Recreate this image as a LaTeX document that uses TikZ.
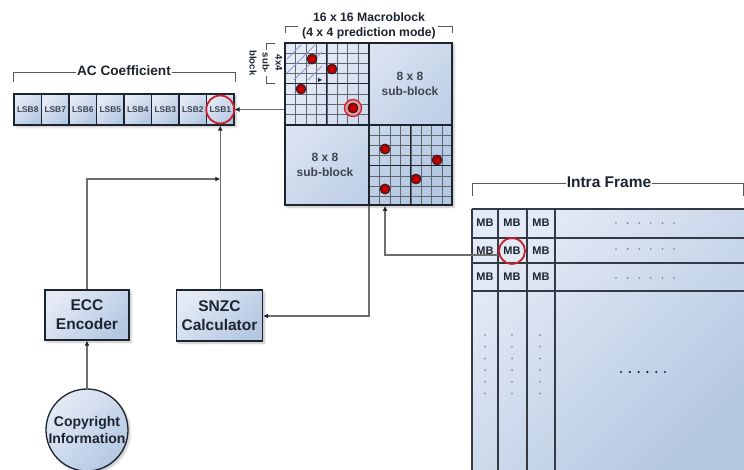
\documentclass[tikz,border=0pt]{standalone}
\usepackage{fontspec}
\setmainfont{Liberation Sans}
\usetikzlibrary{arrows.meta,shadows.blur}
\definecolor{ink}{HTML}{1C2430}
\definecolor{wire}{HTML}{6E6E6E}
\definecolor{lite}{HTML}{E4EAF5}
\definecolor{deep}{HTML}{B5C8E2}
\definecolor{redc}{HTML}{C8202C}
\tikzset{
  panel/.style={left color=lite,right color=deep,shading angle=45},
  softshadow/.style={blur shadow={shadow xshift=2pt,shadow yshift=-2pt,shadow blur steps=6,shadow opacity=25}},
  blockbox/.style={draw=ink,line width=1.3pt,panel,softshadow,font=\bfseries\fontsize{15.5}{19}\selectfont,text=ink,align=center,inner sep=0pt},
  cell/.style={draw=ink,line width=1.2pt,panel,font=\bfseries\fontsize{8.4}{9}\selectfont,text=ink!85,inner sep=0pt,minimum width=27.5pt,minimum height=31pt},
  wirearrow/.style={draw=wire,line width=1.2pt,-{Latex[length=5pt,width=5pt,color=ink]}},
  bracket/.style={draw=black!65,line width=.8pt},
  brlabel/.style={font=\bfseries\selectfont,text=ink,fill=white,inner xsep=1pt,inner ysep=0pt},
  thin grid/.style={draw=ink!70,line width=.45pt},
  sub grid/.style={draw=ink,line width=1.2pt},
  main grid/.style={draw=ink,line width=1.5pt},
  quadtext/.style={font=\bfseries\fontsize{12}{15.5}\selectfont,text=ink!85,align=center},
  mbtext/.style={font=\bfseries\fontsize{11}{12}\selectfont,text=ink},
  ring/.style={draw=redc,line width=1.6pt},
  dotsmall/.style={circle,fill=ink!60,inner sep=0pt,minimum size=1.8pt},
  dotbig/.style={circle,fill=ink,inner sep=0pt,minimum size=2.4pt},
  reddot/.style={circle,draw=ink,line width=.8pt,inner color=red!85!black,outer color=red!60!black,inner sep=0pt,minimum size=10pt},
  iframe/.style={draw=ink!90,line width=1.1pt},
}
\begin{document}
\begin{tikzpicture}[x=1pt,y=-1pt]
\useasboundingbox (0,0) rectangle (744,470);
% AC coefficient
\draw[bracket] (13,82) |- (235,72) -- (235,82);
\node[brlabel,font=\bfseries\fontsize{13.6}{15}\selectfont] (aclabel) at (124,71) {AC Coefficient};
\fill[softshadow,panel] (14,94) rectangle (234,125);
\foreach \i/\t in {0/8,1/7,2/6,3/5,4/4,5/3,6/2,7/1}
  \node[cell] (lsb\t) at ({27.75+27.5*\i},109.5) {LSB\t};
\draw[ring,line width=1.8pt] (lsb1.center) circle (14);
% Macroblock
\node[blockbox,minimum width=167pt,minimum height=162pt,line width=1.8pt] (mb) at (368.5,124) {};
\foreach \ox/\oy in {285/43,369/125}{
  \foreach \k in {1,...,7}{
    \draw[thin grid] ({\ox+\k*10.45},\oy) -- ({\ox+\k*10.45},{\oy+81});
    \draw[thin grid] (\ox,{\oy+\k*10.15}) -- ({\ox+83},{\oy+\k*10.15});
  }
  \draw[sub grid] ({\ox+41.8},\oy) -- ({\ox+41.8},{\oy+81});
  \draw[sub grid] (\ox,{\oy+40.6}) -- ({\ox+83},{\oy+40.6});
}
% scan pattern in the first 4x4 block
\begin{scope}
\clip (287,45) rectangle (322,80);
\foreach \d in {0,14,28,42,56}
  \draw[draw=ink!50!blue!45,line width=.9pt] (287+\d,45) -- (287+\d-36,81);
\end{scope}
\fill[ink] (318,78) -- (322,80) -- (318,82) -- cycle;
\draw[main grid] (369,43) -- (369,205);
\draw[main grid] (285,125) -- (452,125);
\draw[main grid,line width=1.8pt] (285,43) rectangle (452,205);
\node[quadtext] (q1) at (410,84) {8 x 8\\sub-block};
\node[quadtext] (q2) at (325,165) {8 x 8\\sub-block};
\fill[redc!45] (353,108) circle (8.5);
\foreach \n/\x/\y in {a/312/59,b/332/69,c/301/89,d/353/108,e/385/149,f/437/160,g/416/179,h/385/189}
  \node[reddot] (r\n) at (\x,\y) {};
\draw[ring,line width=1.3pt] (rd.center) circle (8.5);
% Macroblock labels
\draw[bracket] (285,33) |- (298,26);
\draw[bracket] (438,26) -| (452,33);
\node[font=\bfseries\fontsize{12.2}{15}\selectfont,text=ink,align=center] (mblabel) at (369,25.5) {16 x 16 Macroblock\\(4 x 4 prediction mode)};
\draw[bracket] (275,43) -| (266,83) -- (275,83);
\node[font=\bfseries\fontsize{9.6}{13}\selectfont,text=ink,align=center,rotate=-90,fill=white,inner sep=0pt] (sublabel) at (266,63) {4x4\\sub-\\block};
% Intra frame
\draw[bracket] (472,196) |- (743.5,183) -- (743.5,196);
\node[brlabel,font=\bfseries\fontsize{15.5}{17}\selectfont] (iflabel) at (609,182) {Intra Frame};
\fill[panel] (472,209) rectangle (744,470);
\foreach \x in {472,498,527,555}
  \draw[iframe] (\x,209) -- (\x,470);
\foreach \y in {209,238,263,291}
  \draw[iframe] (472,\y) -- (744,\y);
\foreach \n/\x in {a/485,b/512,c/541}{
  \node[mbtext] (mb\n1) at (\x,223) {MB};
  \node[mbtext] (mb\n2) at (\x,250.5) {MB};
  \node[mbtext] (mb\n3) at (\x,277) {MB};
}
\draw[ring,line width=1.8pt] (512,251) circle (13);
\foreach \y in {223,249,278}
  \foreach \k in {0,...,5}
    \node[dotsmall] at ({616+\k*11.6},\y) {};
\foreach \x in {485,512,540}
  \foreach \k in {0,...,5}
    \node[dotsmall] at (\x,{335+\k*11.7}) {};
\foreach \k in {0,...,5}
  \node[dotbig] at ({621+\k*8.8},372) {};
% Lower boxes
\node[blockbox,minimum width=84pt,minimum height=50pt] (ecc) at (87,315) {ECC\\Encoder};
\node[blockbox,minimum width=86pt,minimum height=51pt] (snzc) at (219.5,315.5) {SNZC\\Calculator};
\node[blockbox,circle,minimum size=82pt,font=\bfseries\fontsize{14}{17}\selectfont] (copy) at (87,430) {Copyright\\Information};
% Connectors
\coordinate (eccup) at (87,179);
\coordinate (join) at (lsb1.center |- eccup);
\coordinate (mbtap) at (369,316);
\coordinate (mbin) at (385,255);
\coordinate (mbout) at (498,255);
\draw[wirearrow] (copy.north) -- (ecc.south);
\draw[wirearrow] (ecc.north) -- (eccup) -- (join);
\draw[wirearrow] (snzc.north -| lsb1.center) -- (lsb1.south);
\draw[wirearrow] (mb.west |- lsb1.east) -- (lsb1.east);
\draw[wirearrow] (mb.south -| mbtap) -- (mbtap) -- (snzc.east |- mbtap);
\draw[wirearrow] (mbout) -- (mbin) -- (mb.south -| mbin);
\end{tikzpicture}
\end{document}
